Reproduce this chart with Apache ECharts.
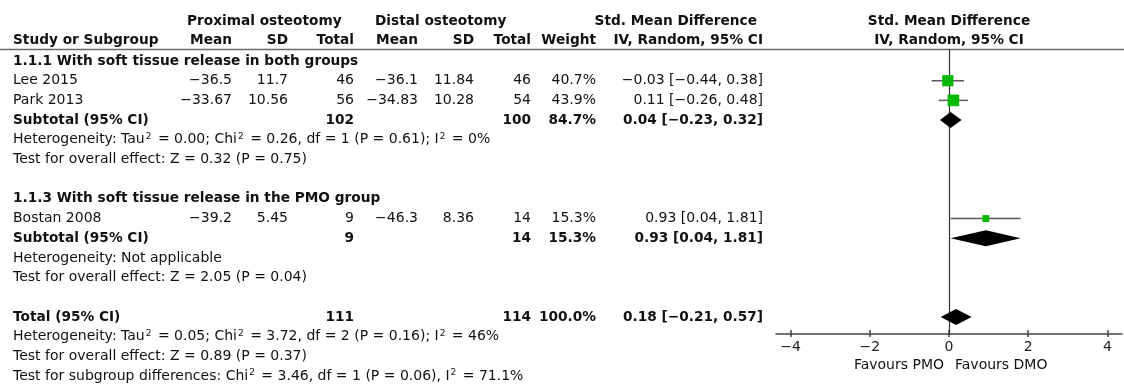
<!DOCTYPE html>
<html>
<head>
<meta charset="utf-8">
<script src="https://cdn.jsdelivr.net/npm/echarts@6/dist/echarts.min.js"></script>
<style>
  html, body { margin: 0; padding: 0; background: #fff; }
  #chart { width: 1124px; height: 385px; }
</style>
</head>
<body>
<div id="chart"></div>
<script>
// ---- Individual studies ----
const studies    = ['Lee 2015', 'Park 2013', 'Bostan 2008'];
const studyRows  = [1, 2, 8];
const proxMean   = [-36.5, -33.67, -39.2];
const proxSD     = [11.7, 10.56, 5.45];
const proxN      = [46, 56, 9];
const distMean   = [-36.1, -34.83, -46.3];
const distSD     = [11.84, 10.28, 8.36];
const distN      = [46, 54, 14];
const weight     = [40.7, 43.9, 15.3];
const smd        = [-0.03, 0.11, 0.93];
const smdLo      = [-0.44, -0.26, 0.04];
const smdHi      = [0.38, 0.48, 1.81];

// ---- Pooled estimates (two subgroups + overall) ----
const pooledLabels = ['Subtotal (95% CI)', 'Subtotal (95% CI)', 'Total (95% CI)'];
const pooledRows   = [3, 9, 13];
const pooledProxN  = [102, 9, 111];
const pooledDistN  = [100, 14, 114];
const pooledWeight = [84.7, 15.3, 100.0];
const pooledEst    = [0.04, 0.93, 0.18];
const pooledLo     = [-0.23, 0.04, -0.21];
const pooledHi     = [0.32, 1.81, 0.57];

// ---- Subgroup headings and statistics lines ----
const groupHeadings = ['1.1.1 With soft tissue release in both groups', '1.1.3 With soft tissue release in the PMO group'];
const groupRows     = [0, 7];
const notes = [
  'Heterogeneity: Tau\u00b2 = 0.00; Chi\u00b2 = 0.26, df = 1 (P = 0.61); I\u00b2 = 0%',
  'Test for overall effect: Z = 0.32 (P = 0.75)',
  'Heterogeneity: Not applicable',
  'Test for overall effect: Z = 2.05 (P = 0.04)',
  'Heterogeneity: Tau\u00b2 = 0.05; Chi\u00b2 = 3.72, df = 2 (P = 0.16); I\u00b2 = 46%',
  'Test for overall effect: Z = 0.89 (P = 0.37)',
  'Test for subgroup differences: Chi\u00b2 = 3.46, df = 1 (P = 0.06), I\u00b2 = 71.1%'
];
const noteRows = [4, 5, 10, 11, 14, 15, 16];

// ---- Axis ----
const xTicks = [-4, -2, 0, 2, 4];
const favourLabels = ['Favours PMO', 'Favours DMO'];

// ---- Layout ----
const W = 1124, H = 385;
const FONT = 'DejaVu Sans';
const FS = 14;          // regular text
const FSB = 13.7;       // bold text
const INK = '#111';
const ROW0 = 61, ROW_H = 19.69;          // pixel centre of row 0 and row pitch
const HEAD_Y = [21, 40];                  // two header lines
const RULE_Y = 49.5;
const PLOT_TOP = 49, AXIS_Y = 334, PLOT_L = 776, PLOT_R = 1122;
const X_EXT = 4.37;
const DIAMOND_H = 8;                      // half height of pooled diamonds
const SQ_K = 1.75;                        // square side per sqrt(weight %)
const COL = { study: 13, pMean: 232, pSD: 288, pN: 354, dMean: 418, dSD: 474, dN: 531, weight: 596, ci: 763 };

const rowMin = (PLOT_TOP - ROW0) / ROW_H;
const rowMax = (AXIS_Y - ROW0) / ROW_H;

const minus = s => String(s).replace(/-/g, '\u2212');
const ciText = (e, l, h) => minus(e.toFixed(2) + ' [' + l.toFixed(2) + ', ' + h.toFixed(2) + ']');

const chart = echarts.init(document.getElementById('chart'), null, { renderer: 'canvas' });

const axisInk = { color: '#444', width: 1.5 };
const plotGrid = { left: PLOT_L, right: W - PLOT_R, top: PLOT_TOP, bottom: H - AXIS_Y };

chart.setOption({
  animation: false,
  backgroundColor: '#fff',
  grid: [plotGrid, Object.assign({}, plotGrid)],
  xAxis: [
    {
      type: 'value', gridIndex: 0, min: -X_EXT, max: X_EXT,
      axisLine: { show: true, onZero: false, lineStyle: axisInk },
      axisTick: { show: true, customValues: xTicks, length: 3, lineStyle: axisInk },
      axisLabel: { show: true, customValues: xTicks, formatter: v => minus(v), fontFamily: FONT, fontSize: FS, color: '#222', margin: 6 },
      splitLine: { show: false }
    },
    {
      // upper halves of the tick marks
      type: 'value', gridIndex: 1, min: -X_EXT, max: X_EXT,
      axisLine: { show: false, onZero: false },
      axisTick: { show: true, inside: true, customValues: xTicks, length: 4, lineStyle: axisInk },
      axisLabel: { show: false },
      splitLine: { show: false }
    }
  ],
  yAxis: [
    { type: 'value', gridIndex: 0, min: rowMin, max: rowMax, inverse: true, show: false },
    { type: 'value', gridIndex: 1, min: rowMin, max: rowMax, inverse: true, show: false }
  ],
  series: [
    {
      // line of no effect
      type: 'line', xAxisIndex: 0, yAxisIndex: 0, data: [], z: 1,
      markLine: {
        silent: true, symbol: 'none', animation: false,
        label: { show: false },
        lineStyle: { color: '#333', width: 1.2, type: 'solid' },
        data: [{ xAxis: 0 }]
      }
    },
    {
      type: 'custom', name: 'studies', xAxisIndex: 0, yAxisIndex: 0, z: 5,
      data: studies.map((s, i) => [smd[i], smdLo[i], smdHi[i], studyRows[i], weight[i]]),
      encode: { x: [0, 1, 2], y: 3 },
      renderItem: (params, api) => {
        const row = api.value(3);
        const pE = api.coord([api.value(0), row]);
        const pL = api.coord([api.value(1), row]);
        const pH = api.coord([api.value(2), row]);
        const side = SQ_K * Math.sqrt(api.value(4));
        return {
          type: 'group',
          children: [
            { type: 'line', shape: { x1: pL[0], y1: pL[1], x2: pH[0], y2: pH[1] }, style: { stroke: '#5a5a5a', lineWidth: 1.5 } },
            { type: 'rect', shape: { x: pE[0] - side / 2, y: pE[1] - side / 2, width: side, height: side }, style: { fill: '#00b900' } }
          ]
        };
      }
    },
    {
      type: 'custom', name: 'pooled', xAxisIndex: 0, yAxisIndex: 0, z: 5,
      data: pooledEst.map((e, i) => [e, pooledLo[i], pooledHi[i], pooledRows[i]]),
      encode: { x: [0, 1, 2], y: 3 },
      renderItem: (params, api) => {
        const row = api.value(3);
        const pE = api.coord([api.value(0), row]);
        const pL = api.coord([api.value(1), row]);
        const pH = api.coord([api.value(2), row]);
        return {
          type: 'polygon',
          shape: { points: [[pL[0], pL[1]], [pE[0], pE[1] - DIAMOND_H], [pH[0], pH[1]], [pE[0], pE[1] + DIAMOND_H]] },
          style: { fill: '#000' }
        };
      }
    }
  ]
});

// ---- Table text, positioned on the same row scale as the plot ----
const rowY = r => chart.convertToPixel({ yAxisIndex: 0 }, r);
const zeroX = chart.convertToPixel({ xAxisIndex: 0 }, 0);

function txt(text, x, y, align, bold) {
  const hasSup = text.indexOf('\u00b2') >= 0;
  const style = {
    text: hasSup ? text.replace(/\u00b2/g, '{sup|2}') : text,
    fill: INK,
    fontFamily: FONT, fontSize: bold ? FSB : FS, fontWeight: bold ? 'bold' : 'normal',
    align: align, verticalAlign: 'middle',
    textAlign: align, textVerticalAlign: 'middle'
  };
  if (hasSup) {
    style.lineHeight = 16;
    style.rich = {
      sup: { fontFamily: FONT, fontSize: 9, fill: INK, lineHeight: 11, verticalAlign: 'top', padding: [0, 2, 0, 1] }
    };
  }
  return { type: 'text', x: x, y: y, silent: true, style: style };
}

const g = [];
// header
g.push(txt('Proximal osteotomy', 187, HEAD_Y[0], 'left', true));
g.push(txt('Distal osteotomy', 375, HEAD_Y[0], 'left', true));
g.push(txt('Std. Mean Difference', COL.ci - 6, HEAD_Y[0], 'right', true));
g.push(txt('Std. Mean Difference', zeroX, HEAD_Y[0], 'center', true));
g.push(txt('Study or Subgroup', COL.study, HEAD_Y[1], 'left', true));
g.push(txt('Mean', COL.pMean, HEAD_Y[1], 'right', true));
g.push(txt('SD', COL.pSD, HEAD_Y[1], 'right', true));
g.push(txt('Total', COL.pN, HEAD_Y[1], 'right', true));
g.push(txt('Mean', COL.dMean, HEAD_Y[1], 'right', true));
g.push(txt('SD', COL.dSD, HEAD_Y[1], 'right', true));
g.push(txt('Total', COL.dN, HEAD_Y[1], 'right', true));
g.push(txt('Weight', COL.weight, HEAD_Y[1], 'right', true));
g.push(txt('IV, Random, 95% CI', COL.ci, HEAD_Y[1], 'right', true));
g.push(txt('IV, Random, 95% CI', zeroX, HEAD_Y[1], 'center', true));
g.push({ type: 'line', silent: true, shape: { x1: 0, y1: RULE_Y, x2: W, y2: RULE_Y }, style: { stroke: '#6a6a6a', lineWidth: 1.5 } });

groupHeadings.forEach((t, i) => g.push(txt(t, COL.study, rowY(groupRows[i]), 'left', true)));

studies.forEach((s, i) => {
  const y = rowY(studyRows[i]);
  g.push(txt(s, COL.study, y, 'left', false));
  g.push(txt(minus(proxMean[i]), COL.pMean, y, 'right', false));
  g.push(txt(String(proxSD[i]), COL.pSD, y, 'right', false));
  g.push(txt(String(proxN[i]), COL.pN, y, 'right', false));
  g.push(txt(minus(distMean[i]), COL.dMean, y, 'right', false));
  g.push(txt(String(distSD[i]), COL.dSD, y, 'right', false));
  g.push(txt(String(distN[i]), COL.dN, y, 'right', false));
  g.push(txt(weight[i].toFixed(1) + '%', COL.weight, y, 'right', false));
  g.push(txt(ciText(smd[i], smdLo[i], smdHi[i]), COL.ci, y, 'right', false));
});

pooledLabels.forEach((s, i) => {
  const y = rowY(pooledRows[i]);
  g.push(txt(s, COL.study, y, 'left', true));
  g.push(txt(String(pooledProxN[i]), COL.pN, y, 'right', true));
  g.push(txt(String(pooledDistN[i]), COL.dN, y, 'right', true));
  g.push(txt(pooledWeight[i].toFixed(1) + '%', COL.weight, y, 'right', true));
  g.push(txt(ciText(pooledEst[i], pooledLo[i], pooledHi[i]), COL.ci, y, 'right', true));
});

notes.forEach((t, i) => g.push(txt(t, COL.study, rowY(noteRows[i]), 'left', false)));

g.push(txt(favourLabels[0], zeroX - 5, 365, 'right', false));
g.push(txt(favourLabels[1], zeroX + 6, 365, 'left', false));

chart.setOption({ graphic: { elements: g } });
</script>
</body>
</html>
